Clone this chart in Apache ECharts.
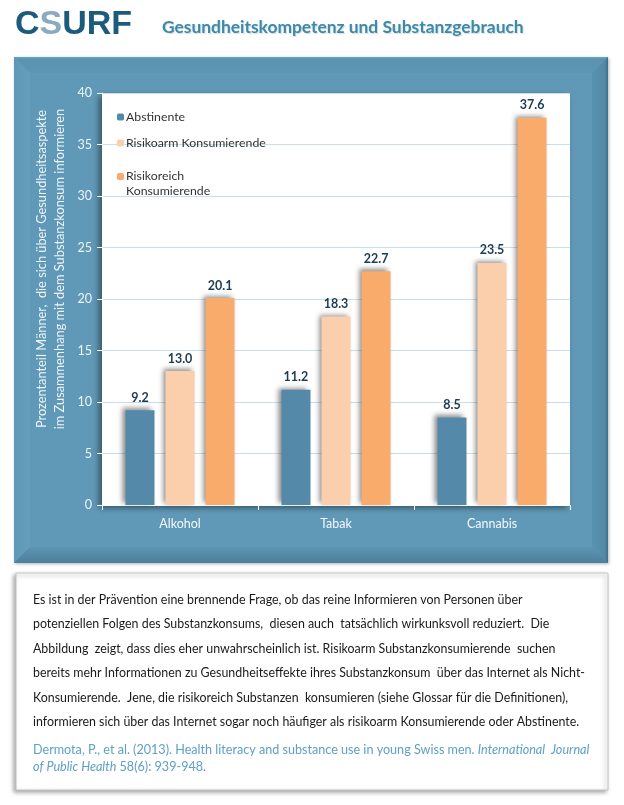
<!DOCTYPE html>
<html><head><meta charset="utf-8">
<script src="https://cdn.jsdelivr.net/npm/echarts@6/dist/echarts.min.js"></script>
<style>html,body{margin:0;padding:0;background:#fff}#c{width:624px;height:805px}</style>
</head><body><div id="c"></div>
<script>
const categories = ['Alkohol', 'Tabak', 'Cannabis'];
const seriesNames = ['Abstinente', 'Risikoarm Konsumierende', 'Risikoreich Konsumierende'];
const abstinente = [9.2, 11.2, 8.5];
const risikoarm = [13.0, 18.3, 23.5];
const risikoreich = [20.1, 22.7, 37.6];
const yTicks = {min: 0, max: 40, interval: 5};
const title = 'Gesundheitskompetenz und Substanzgebrauch';
const yAxisName = 'Prozentanteil Männer,  die sich über Gesundheitsaspekte\nim Zusammenhang mit dem Substanzkonsum informieren';
const bodyLines = [
  'Es ist in der Prävention eine brennende Frage, ob das reine Informieren von Personen über',
  'potenziellen Folgen des Substanzkonsums,  diesen auch  tatsächlich wirkunksvoll reduziert.  Die',
  'Abbildung  zeigt, dass dies eher unwahrscheinlich ist. Risikoarm Substanzkonsumierende  suchen',
  'bereits mehr Informationen zu Gesundheitseffekte ihres Substanzkonsum  über das Internet als Nicht-',
  'Konsumierende.  Jene, die risikoreich Substanzen  konsumieren (siehe Glossar für die Definitionen),',
  'informieren sich über das Internet sogar noch häufiger als risikoarm Konsumierende oder Abstinente.'
];
const colors = ['#5589aa', '#fbcfab', '#f8ab6b'];
const seriesData = [abstinente, risikoarm, risikoreich];

const FONT = 'Lato';
const chart = echarts.init(document.getElementById('c'), null, {renderer: 'canvas'});

const graphics = [];
// Logo
graphics.push({type: 'text', x: 15, y: 25, z: 10, style: {
  text: '{c|C}{s|S}{c|URF}', verticalAlign: 'middle',
  rich: {
    c: {fill: '#1d5b7e', fontSize: 34, fontWeight: 'bold', fontFamily: 'Liberation Sans'},
    s: {fill: '#8aabbf', fontSize: 34, fontWeight: 'bold', fontFamily: 'Liberation Sans'}
  }
}});
// Title
graphics.push({type: 'text', x: 162, y: 27, z: 10, style: {
  text: title, fill: '#3a8aab', fontSize: 17.4, fontWeight: 'bold', fontFamily: FONT,
  verticalAlign: 'middle', textShadowColor: 'rgba(0,0,0,0.15)', textShadowBlur: 1, textShadowOffsetX: 1, textShadowOffsetY: 1
}});
// Panel with bevel
const PX = 14, PY = 57, PW = 594, PH = 506, B = 16;
const x0 = PX, y0 = PY, x1 = PX + PW, y1 = PY + PH;
graphics.push({type: 'rect', z: -10, shape: {x: PX, y: PY, width: PW, height: PH},
  style: {fill: '#5f97b5', shadowColor: 'rgba(0,0,0,0.3)', shadowBlur: 3, shadowOffsetX: 1, shadowOffsetY: 1}});
graphics.push({type: 'polygon', z: -9, shape: {points: [[x0, y0], [x1, y0], [x1 - B, y0 + B], [x0 + B, y0 + B]]},
  style: {fill: {type: 'linear', x: 0, y: 0, x2: 0, y2: 1, colorStops: [{offset: 0, color: '#6aa5c4'}, {offset: 0.15, color: '#5a92b0'}, {offset: 1, color: '#5d96b4'}]}}});
graphics.push({type: 'polygon', z: -9, shape: {points: [[x0, y0], [x0 + B, y0 + B], [x0 + B, y1 - B], [x0, y1]]},
  style: {fill: {type: 'linear', x: 0, y: 0, x2: 1, y2: 0, colorStops: [{offset: 0, color: '#5f98b6'}, {offset: 1, color: '#659ebb'}]}}});
graphics.push({type: 'polygon', z: -9, shape: {points: [[x1, y0], [x1, y1], [x1 - B, y1 - B], [x1 - B, y0 + B]]},
  style: {fill: {type: 'linear', x: 0, y: 0, x2: 1, y2: 0, colorStops: [{offset: 0, color: '#5a93b1'}, {offset: 0.8, color: '#5189a6'}, {offset: 1, color: '#3e6d88'}]}}});
graphics.push({type: 'polygon', z: -9, shape: {points: [[x0, y1], [x0 + B, y1 - B], [x1 - B, y1 - B], [x1, y1]]},
  style: {fill: {type: 'linear', x: 0, y: 0, x2: 0, y2: 1, colorStops: [{offset: 0, color: '#5c94b2'}, {offset: 1, color: '#4c809c'}]}}});
graphics.push({type: 'rect', z: -8, shape: {x: x0 + B, y: y0 + B, width: PW - 2 * B, height: PH - 2 * B}, style: {fill: '#6099b7'}});
// Y axis name
graphics.push({type: 'text', x: 51, y: 269, rotation: Math.PI / 2, z: 10, style: {
  text: yAxisName, fill: '#eef4f8', fontSize: 12.8, fontFamily: FONT, lineHeight: 18,
  align: 'center', verticalAlign: 'middle'
}});
// Text box
graphics.push({type: 'rect', z: -10, shape: {x: 16, y: 573, width: 592, height: 217},
  style: {fill: '#ffffff', stroke: '#c4c4c4', lineWidth: 1, shadowColor: 'rgba(0,0,0,0.35)', shadowBlur: 4, shadowOffsetX: -2, shadowOffsetY: 2}});
bodyLines.forEach((t, i) => {
  graphics.push({type: 'text', x: 33, y: 600 + i * 24.4, z: 10, style: {
    text: t, fill: '#1a1a1a', fontSize: 12.4, fontFamily: FONT, verticalAlign: 'middle'
  }});
});
const citeRich = {n: {fill: '#5fa0c6', fontSize: 12.6, fontFamily: FONT}, i: {fill: '#5fa0c6', fontSize: 12.6, fontFamily: FONT, fontStyle: 'italic'}};
graphics.push({type: 'text', x: 33, y: 750, z: 10, style: {
  text: '{n|Dermota, P., et al. (2013). Health literacy and substance use in young Swiss men. }{i|International  Journal}',
  verticalAlign: 'middle', rich: citeRich
}});
graphics.push({type: 'text', x: 33, y: 767, z: 10, style: {
  text: '{i|of Public Health}{n| 58(6): 939-948.}',
  verticalAlign: 'middle', rich: citeRich
}});

const series = seriesNames.map((name, i) => ({
  name, type: 'bar', data: seriesData[i], barWidth: 29, barGap: '38%',
  itemStyle: {color: colors[i], shadowColor: 'rgba(0,0,0,0.45)', shadowBlur: 5, shadowOffsetX: -3, shadowOffsetY: -2},
  label: {show: true, position: 'top', distance: 6, color: '#1c3b52', fontWeight: 'bold', fontSize: 12.5, fontFamily: FONT,
    formatter: p => p.value.toFixed(1)}
}));

chart.setOption({
  animation: false,
  color: colors,
  graphic: graphics,
  grid: {left: 102, right: 54, top: 93, bottom: 300, show: true, backgroundColor: '#ffffff', borderWidth: 0,
    shadowColor: 'rgba(0,0,0,0.45)', shadowBlur: 6, shadowOffsetX: -3, shadowOffsetY: 3},
  legend: [
    {data: [seriesNames[0], seriesNames[1]], orient: 'vertical', left: 117, top: 111, padding: 0,
      itemWidth: 7, itemHeight: 7, itemGap: 14, selectedMode: false,
      textStyle: {color: '#333', fontSize: 12.3, fontFamily: FONT, padding: [0, 0, 0, -3]}},
    {data: [seriesNames[2]], orient: 'vertical', left: 117, top: 154, padding: 0,
      itemWidth: 7, itemHeight: 7, selectedMode: false,
      formatter: n => '\nRisikoreich\nKonsumierende',
      textStyle: {color: '#333', fontSize: 12.3, fontFamily: FONT, lineHeight: 15, padding: [0, 0, 0, -3]}}
  ],
  xAxis: {type: 'category', data: categories,
    axisLine: {lineStyle: {color: '#ffffff', width: 1}},
    axisTick: {show: true, length: 5, lineStyle: {color: '#ffffff'}},
    axisLabel: {color: '#f4f8fb', fontSize: 12.5, fontFamily: FONT, margin: 12}},
  yAxis: {type: 'value', min: yTicks.min, max: yTicks.max, interval: yTicks.interval,
    axisLine: {show: true, lineStyle: {color: '#ffffff'}},
    axisTick: {show: true, length: 5, lineStyle: {color: '#ffffff'}},
    axisLabel: {color: '#eef4f8', fontSize: 12.5, fontFamily: FONT, margin: 10},
    splitLine: {lineStyle: {color: '#c8e0ec', width: 1}}},
  series
});
</script></body></html>
